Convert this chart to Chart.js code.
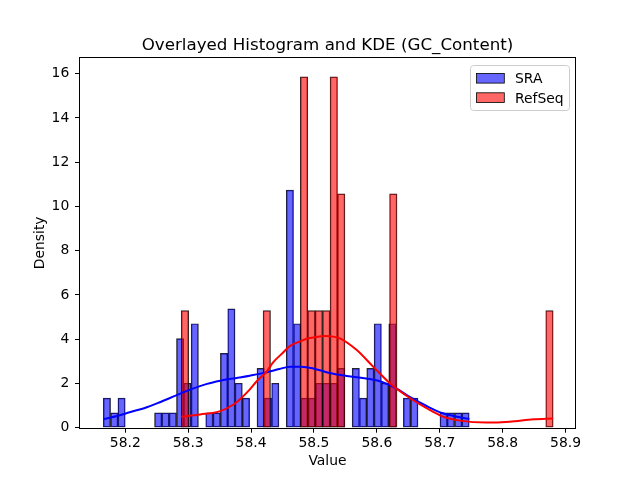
<!DOCTYPE html>
<html><head><meta charset="utf-8">
<script src="https://cdn.jsdelivr.net/npm/chart.js@4.4.0/dist/chart.umd.min.js"></script>
<style>html,body{margin:0;padding:0;background:#fff}#wrap{width:640px;height:480px}</style>
</head><body><div id="wrap"><canvas id="c" width="640" height="480"></canvas></div>
<script>
const chartTitle = 'Overlayed Histogram and KDE (GC_Content)';
const xTitle = 'Value';
const yTitle = 'Density';
const seriesNames = ['SRA', 'RefSeq'];

// SRA histogram: bin centres and densities (50 bins)
const sraBinCenters = [58.1708,58.1825,58.1941,58.2057,58.2174,58.2290,58.2407,58.2523,58.2639,58.2756,
  58.2872,58.2988,58.3105,58.3221,58.3337,58.3454,58.3570,58.3687,58.3803,58.3919,
  58.4036,58.4152,58.4268,58.4385,58.4501,58.4617,58.4734,58.4850,58.4967,58.5083,
  58.5199,58.5316,58.5432,58.5548,58.5665,58.5781,58.5897,58.6014,58.6130,58.6247,
  58.6363,58.6479,58.6596,58.6712,58.6828,58.6945,58.7061,58.7177,58.7294,58.7410];
const sraDensity = [1.34,0.67,1.34,0,0,0,0,0.67,0.67,0.67,
  4.03,2.01,4.70,0,0.67,0.67,3.36,5.37,2.01,1.34,
  0,2.68,1.34,2.01,0,10.74,4.70,1.34,1.34,2.01,
  2.01,2.01,2.68,0,2.68,1.34,2.68,4.70,2.01,4.70,
  0,1.34,1.34,0,0,0,0.67,0.67,0.67,0.67];

// RefSeq histogram: bin centres and densities (50 bins)
const refBinCenters = [58.2949,58.3068,58.3186,58.3304,58.3422,58.3541,58.3659,58.3777,58.3896,58.4014,
  58.4132,58.4250,58.4369,58.4487,58.4605,58.4723,58.4842,58.4960,58.5078,58.5196,
  58.5315,58.5433,58.5551,58.5670,58.5788,58.5906,58.6024,58.6143,58.6261,58.6379,
  58.6497,58.6616,58.6734,58.6852,58.6970,58.7089,58.7207,58.7325,58.7444,58.7562,
  58.7680,58.7798,58.7917,58.8035,58.8153,58.8271,58.8390,58.8508,58.8626,58.8744];
const refDensity = [5.29,0,0,0,0,0,0,0,0,0,
  0,5.29,0,0,0,0,15.86,5.29,5.29,5.29,
  15.86,10.57,0,0,0,0,0,0,10.57,0,
  0,0,0,0,0,0,0,0,0,0,
  0,0,0,0,0,0,0,0,0,5.29];

// KDE curves
const sraKdeX = [58.165,58.190,58.207,58.230,58.255,58.280,58.303,58.330,58.351,58.375,58.398,58.425,58.445,58.462,58.480,58.499,58.525,58.552,58.589,58.605,58.631,58.653,58.679,58.705,58.732,58.747];
const sraKdeY = [0.38,0.55,0.70,0.88,1.15,1.45,1.72,1.98,2.12,2.24,2.35,2.50,2.65,2.76,2.76,2.68,2.47,2.34,2.20,2.10,1.78,1.38,0.98,0.65,0.47,0.39];
const refKdeX = [58.289,58.319,58.351,58.372,58.382,58.397,58.409,58.425,58.435,58.451,58.462,58.478,58.488,58.499,58.517,58.541,58.568,58.594,58.621,58.653,58.679,58.705,58.732,58.774,58.811,58.849,58.880];
const refKdeY = [0.50,0.60,0.75,1.05,1.28,1.70,2.10,2.55,2.95,3.40,3.70,3.90,4.02,4.08,4.15,4.04,3.51,2.76,2.00,1.33,0.88,0.50,0.32,0.23,0.27,0.38,0.42];

const xTicks = [58.2,58.3,58.4,58.5,58.6,58.7,58.8,58.9];
const yTicks = [0,2,4,6,8,10,12,14,16];

const FONT = 'DejaVu Sans';
const toXY = (xs, ys) => xs.map((x, i) => ({x: x, y: ys[i]}));

const framePlugin = {
  id: 'frameAndLegend',
  afterDraw(chart) {
    const ctx = chart.ctx, a = chart.chartArea;
    ctx.save();
    // spines
    ctx.strokeStyle = '#000'; ctx.lineWidth = 1;
    ctx.strokeRect(Math.round(a.left) - 0.5, Math.round(a.top) - 0.5, Math.round(a.right - a.left) + 1, Math.round(a.bottom - a.top) + 1);
    // title
    ctx.fillStyle = '#000';
    ctx.font = '16.7px "' + FONT + '"';
    ctx.textAlign = 'center'; ctx.textBaseline = 'alphabetic';
    ctx.fillText(chartTitle, (a.left + a.right) / 2, 49.7);
    // legend
    const lx = 470.5, ly = 65.5, lw = 99, lh = 45, r = 3;
    ctx.beginPath();
    ctx.moveTo(lx + r, ly); ctx.lineTo(lx + lw - r, ly); ctx.arcTo(lx + lw, ly, lx + lw, ly + r, r);
    ctx.lineTo(lx + lw, ly + lh - r); ctx.arcTo(lx + lw, ly + lh, lx + lw - r, ly + lh, r);
    ctx.lineTo(lx + r, ly + lh); ctx.arcTo(lx, ly + lh, lx, ly + lh - r, r);
    ctx.lineTo(lx, ly + r); ctx.arcTo(lx, ly, lx + r, ly, r); ctx.closePath();
    ctx.fillStyle = 'rgba(255,255,255,0.8)'; ctx.fill();
    ctx.strokeStyle = '#cccccc'; ctx.lineWidth = 1; ctx.stroke();
    const fills = ['#6666ff', '#ff6666'];
    const rowsY = [78.3, 97.7];
    ctx.font = '13.9px "' + FONT + '"';
    ctx.textAlign = 'left'; ctx.textBaseline = 'alphabetic';
    for (let i = 0; i < 2; i++) {
      ctx.fillStyle = fills[i];
      ctx.fillRect(476.5, rowsY[i] - 4.9, 27.8, 9.7);
      ctx.strokeStyle = '#000'; ctx.lineWidth = 0.8;
      ctx.strokeRect(476.5, rowsY[i] - 4.9, 27.8, 9.7);
      ctx.fillStyle = '#000';
      ctx.fillText(seriesNames[i], 515, rowsY[i] + 5);
    }
    ctx.restore();
  }
};

const barCommon = {
  type: 'bar', yAxisID: 'y', barPercentage: 1, categoryPercentage: 1, grouped: false,
  borderColor: 'rgba(0,0,0,0.85)', borderWidth: 0.8, borderSkipped: false
};

new Chart(document.getElementById('c'), {
  type: 'bar',
  data: {
    datasets: [
      Object.assign({}, barCommon, {label: seriesNames[0], xAxisID: 'x', data: toXY(sraBinCenters, sraDensity), backgroundColor: 'rgba(0,0,255,0.6)', order: 4}),
      Object.assign({}, barCommon, {label: seriesNames[1], xAxisID: 'x2', data: toXY(refBinCenters, refDensity), backgroundColor: 'rgba(255,0,0,0.6)', order: 3}),
      {type: 'line', label: seriesNames[0] + ' KDE', xAxisID: 'x', yAxisID: 'y', data: toXY(sraKdeX, sraKdeY), borderColor: '#0000ff', borderWidth: 2, pointRadius: 0, fill: false, cubicInterpolationMode: 'monotone', order: 2},
      {type: 'line', label: seriesNames[1] + ' KDE', xAxisID: 'x', yAxisID: 'y', data: toXY(refKdeX, refKdeY), borderColor: '#ff0000', borderWidth: 2, pointRadius: 0, fill: false, cubicInterpolationMode: 'monotone', order: 1}
    ]
  },
  options: {
    responsive: false, animation: false, devicePixelRatio: 1, events: [],
    layout: {padding: {left: 0, right: 65, top: 58, bottom: 0}},
    plugins: {legend: {display: false}, tooltip: {enabled: false}, title: {display: false}},
    scales: {
      x: {
        type: 'linear', position: 'bottom', min: 58.128, max: 58.915, offset: false,
        afterBuildTicks: s => { s.ticks = xTicks.map(v => ({value: v})); },
        afterFit: s => { s.height = 52.3; },
        grid: {offset: false, drawOnChartArea: false, drawTicks: true, tickLength: 5, color: '#000', lineWidth: 1},
        border: {display: false},
        ticks: {color: '#000', font: {family: FONT, size: 13.9}, padding: 2.5, maxRotation: 0, autoSkip: false, callback: v => Number(v).toFixed(1)},
        title: {display: true, text: xTitle, color: '#000', font: {family: FONT, size: 13.9}, padding: {top: 0, bottom: 9.8}}
      },
      x2: {type: 'linear', position: 'bottom', min: 58.128, max: 58.915, offset: false, grid: {offset: false}, display: false},
      y: {
        type: 'linear', position: 'left', min: 0, max: 16.71,
        afterBuildTicks: s => { s.ticks = yTicks.map(v => ({value: v})); },
        afterFit: s => { s.width = 80; },
        grid: {drawOnChartArea: false, drawTicks: true, tickLength: 5, color: '#000', lineWidth: 1},
        border: {display: false},
        ticks: {color: '#000', font: {family: FONT, size: 13.9}, padding: 5.7, callback: v => String(v)},
        title: {display: true, text: yTitle, color: '#000', font: {family: FONT, size: 13.9}, padding: {top: 31.9, bottom: 0}}
      }
    }
  },
  plugins: [framePlugin]
});
</script>
</body></html>
